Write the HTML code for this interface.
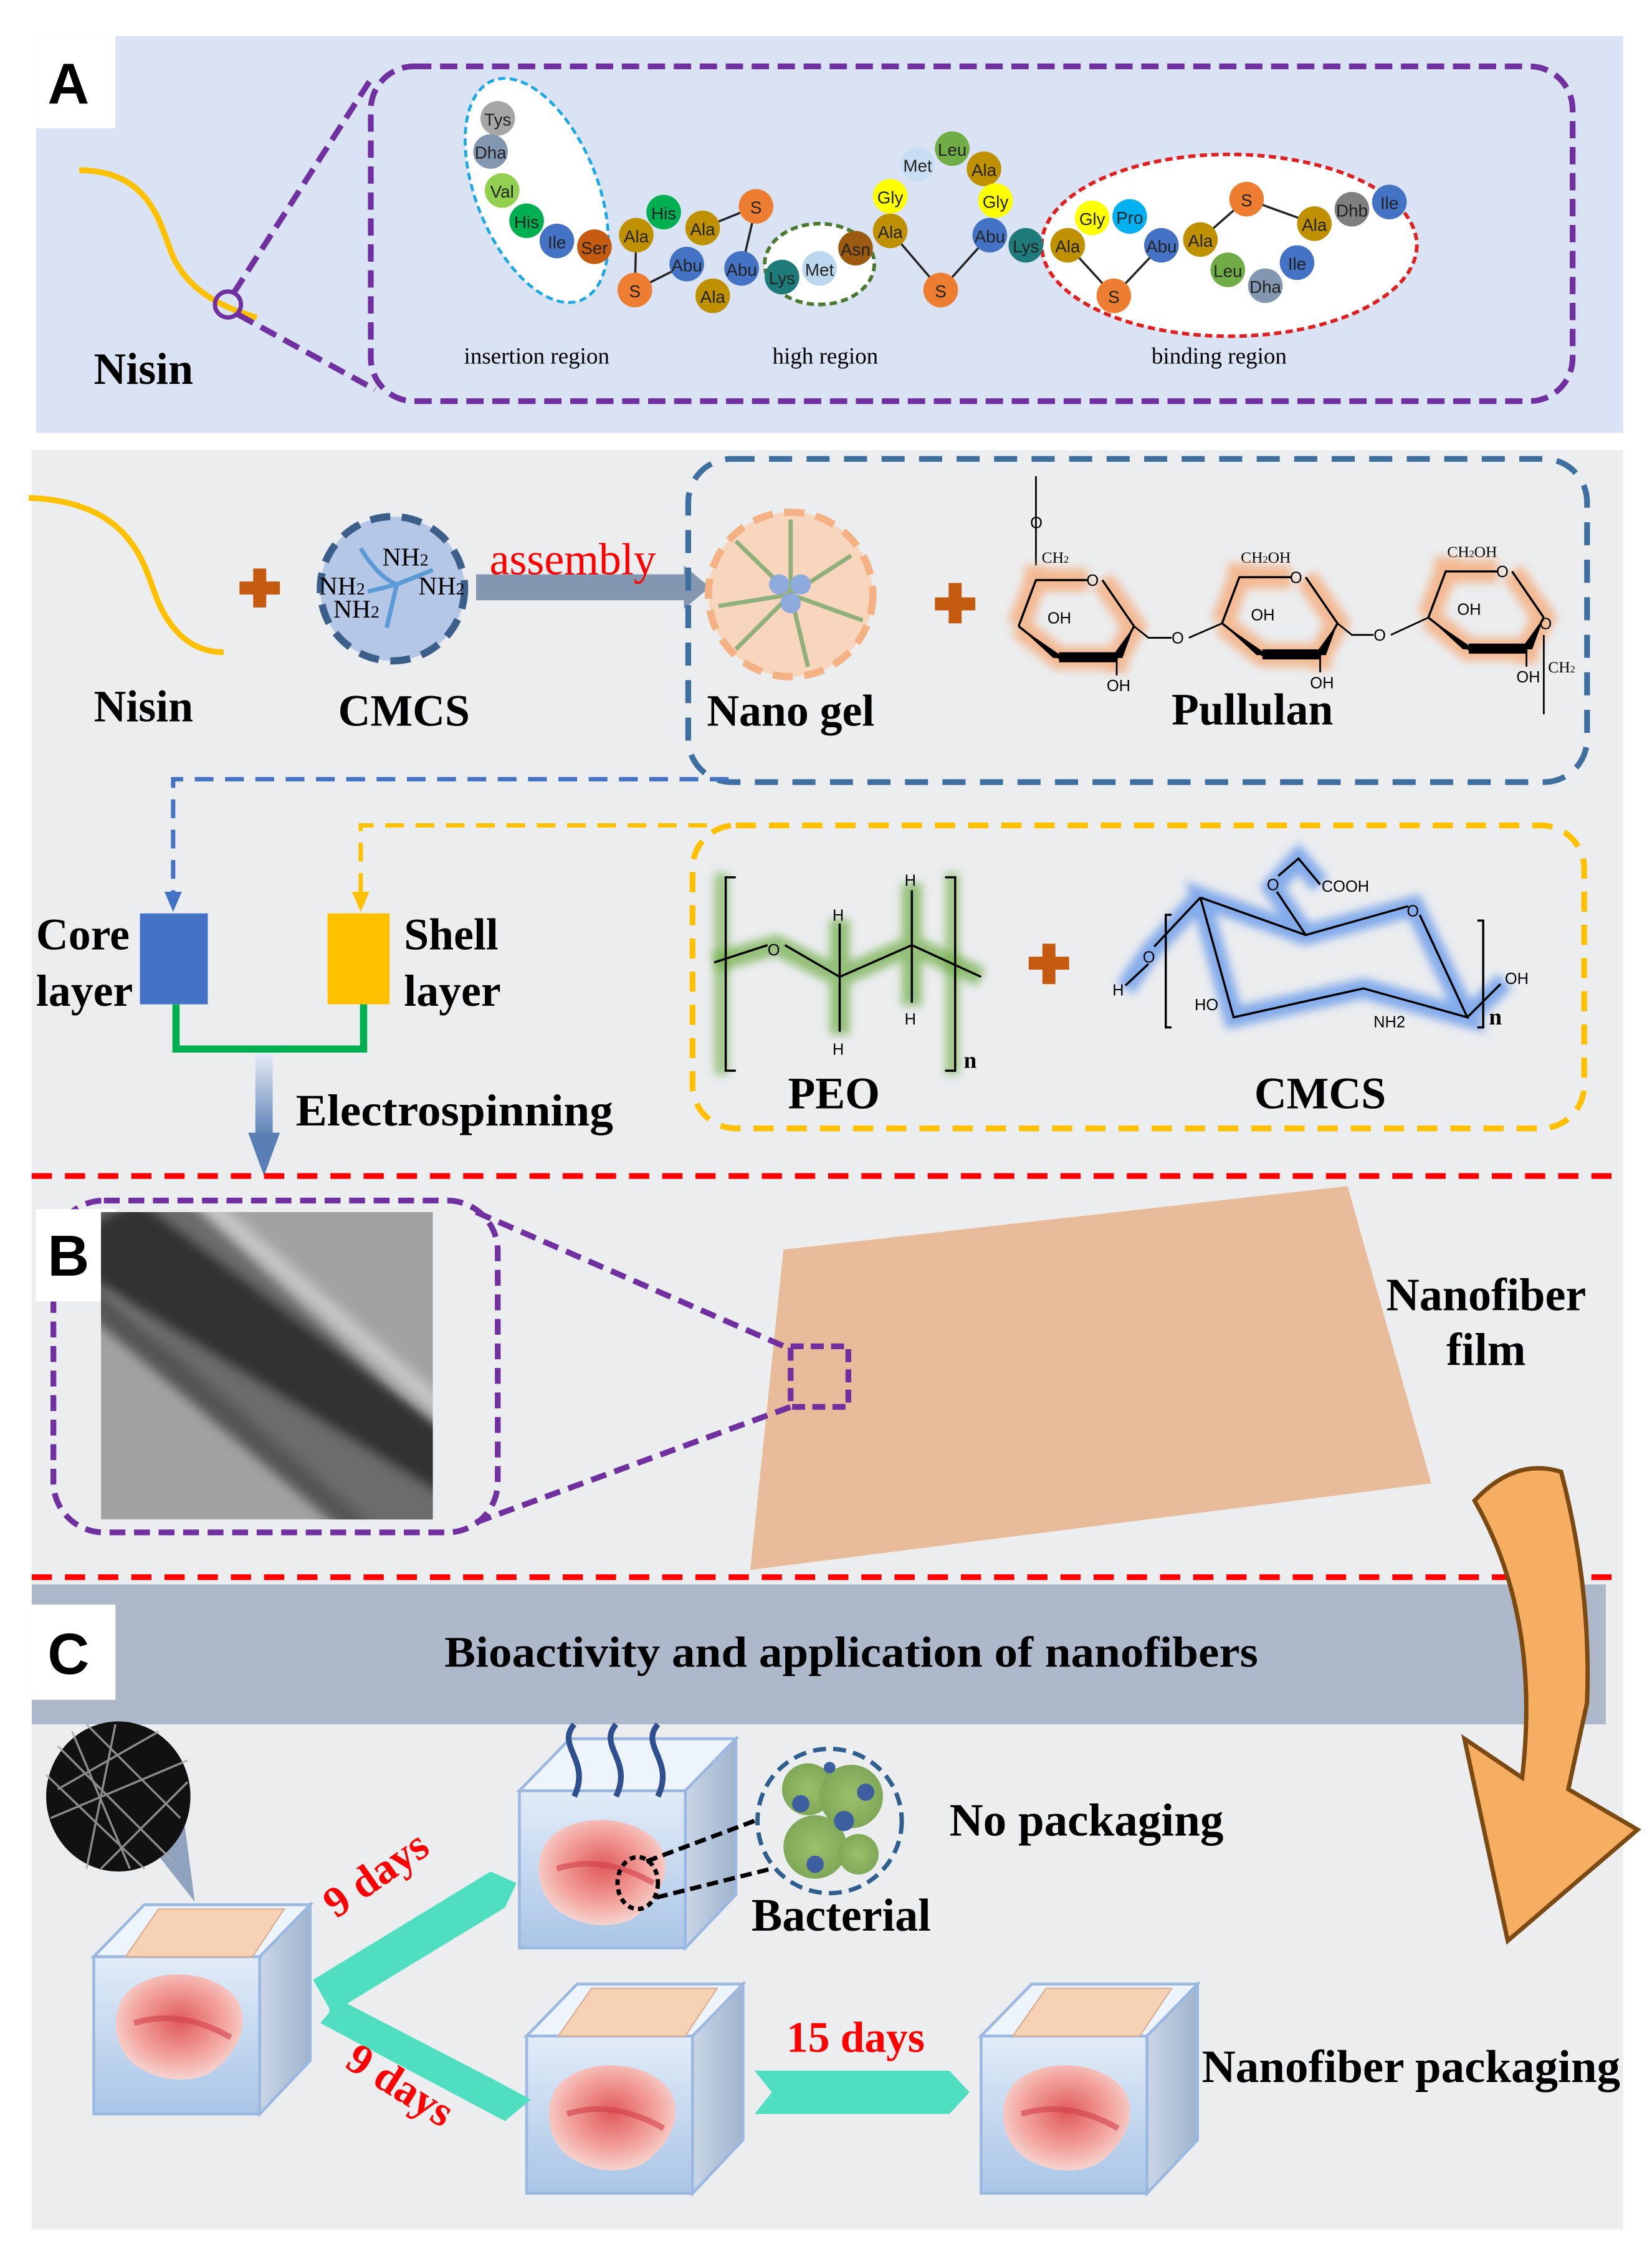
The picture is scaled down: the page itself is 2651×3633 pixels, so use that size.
<!DOCTYPE html>
<html><head><meta charset="utf-8"><style>
html,body{margin:0;padding:0;background:#fff;}
svg{display:block;}
text{font-family:"Liberation Serif",serif;}
.b{font-weight:bold;}
.res{font-family:"Liberation Sans",sans-serif;font-size:12px;fill:#222;text-anchor:middle;}
.chem{font-family:"Liberation Sans",sans-serif;font-size:11px;fill:#000;}
</style></head><body>
<svg width="2651" height="3633" viewBox="0 0 1145 1569" preserveAspectRatio="none" xmlns="http://www.w3.org/2000/svg">
<defs>
<filter id="gl" x="-20%" y="-20%" width="140%" height="140%"><feGaussianBlur stdDeviation="3"/></filter>
<filter id="bl" x="-10%" y="-10%" width="120%" height="120%"><feGaussianBlur stdDeviation="4"/></filter>
<linearGradient id="dn" x1="0" y1="0" x2="0" y2="1"><stop offset="0" stop-color="#e6ecf6"/><stop offset="1" stop-color="#5a7fb4"/></linearGradient>
<linearGradient id="box" x1="0" y1="0" x2="0" y2="1"><stop offset="0" stop-color="#e2ecf8"/><stop offset="1" stop-color="#a9c5e6"/></linearGradient>
<linearGradient id="side" x1="0" y1="0" x2="1" y2="0"><stop offset="0" stop-color="#c9d6e6"/><stop offset="1" stop-color="#9fb4cd"/></linearGradient>
<radialGradient id="fish" cx="0.5" cy="0.45" r="0.6"><stop offset="0" stop-color="#e05a5a"/><stop offset="0.6" stop-color="#f4a6a0"/><stop offset="1" stop-color="#f6e0dc"/></radialGradient>
<radialGradient id="bac" cx="0.5" cy="0.5" r="0.5"><stop offset="0" stop-color="#9cc06a"/><stop offset="1" stop-color="#7fa858"/></radialGradient>
<g id="cube">
<polygon points="0,36 115,36 115,145 0,145" fill="url(#box)" stroke="#9db8e0" stroke-width="2"/>
<polygon points="115,36 150,0 150,108 115,145" fill="url(#side)" stroke="#9db8e0" stroke-width="2"/>
<polygon points="0,36 35,0 150,0 115,36" fill="#eef4fc" stroke="#9db8e0" stroke-width="2"/>
</g>
<g id="film"><polygon points="22,36 45,3 132,3 110,36" fill="#f6d1b3" stroke="#d8b095" stroke-width="1"/></g>
<g id="fishg"><path d="M12,0 C30,-20 75,-18 90,5 C100,25 85,45 70,55 C55,62 35,60 20,50 C5,40 0,15 12,0 Z" fill="url(#fish)"/><path d="M18,20 Q50,10 85,30" stroke="#d0404a" stroke-width="4" fill="none" opacity="0.6"/></g>
<g id="ring">
<path d="M0,32 L12,0 L48,0 M58,0 L80,32 L68,54 L28,54 L0,32 M68,54 L68,64 M12,0 L12,-10" stroke="#f4b183" stroke-width="16" fill="none" filter="url(#gl)" opacity="0.85"/>
<path d="M0,32 L12,0 L48,0 M58,0 L80,32" stroke="#000" stroke-width="1.5" fill="none"/>
<path d="M80,32 L68,54 L28,54 L0,32" stroke="#000" stroke-width="1.5" fill="none"/>
<polygon points="80,32 64,54 72,54" fill="#000"/><polygon points="28,50 68,50 68,57 28,57" fill="#000"/><polygon points="0,32 24,54 32,54" fill="#000"/>
<text x="47" y="4" class="chem">O</text>
<line x1="68" y1="54" x2="68" y2="66" stroke="#000" stroke-width="1.2"/>
<text x="61" y="77" class="chem">OH</text>
<text x="20" y="30" class="chem">OH</text>
</g>
</defs>

<!-- Panel A -->
<rect x="25" y="25" width="1100" height="275" fill="#d9e3f3"/>
<rect x="25" y="25" width="55" height="64" fill="#fff"/>
<text x="33" y="72" font-weight="bold" font-size="40" style="font-family:'Liberation Sans',sans-serif">A</text>
<path d="M55,118 C110,118 112,165 122,182 C132,200 150,212 178,220" stroke="#ffc000" stroke-width="4" fill="none"/>
<circle cx="158" cy="211" r="9" fill="none" stroke="#7030a0" stroke-width="3"/>
<path d="M162,203 L257,55 M165,218 L260,270" stroke="#7030a0" stroke-width="4" stroke-dasharray="12 6" fill="none"/>
<rect x="257" y="46" width="833" height="232" rx="30" fill="none" stroke="#7030a0" stroke-width="4" stroke-dasharray="12 6"/>
<text x="65" y="266" class="b" font-size="31">Nisin</text>
<ellipse cx="372" cy="132" rx="42" ry="82" transform="rotate(-22 372 132)" fill="#fff" stroke="#1aa7e6" stroke-width="2" stroke-dasharray="5 3"/>
<ellipse cx="568" cy="183" rx="38" ry="28" fill="#fff" stroke="#4a7a30" stroke-width="2.5" stroke-dasharray="5 3"/>
<ellipse cx="852" cy="170" rx="130" ry="63" fill="#fff" stroke="#e02020" stroke-width="2.5" stroke-dasharray="5 3"/>
<g stroke="#222" stroke-width="1.5">
<line x1="441" y1="163" x2="440" y2="201"/><line x1="440" y1="201" x2="476" y2="183"/><line x1="487" y1="158" x2="524" y2="143"/><line x1="524" y1="143" x2="514" y2="186"/>
<line x1="617" y1="160" x2="652" y2="201"/><line x1="652" y1="201" x2="686" y2="163"/><line x1="740" y1="170" x2="772" y2="205"/><line x1="772" y1="205" x2="805" y2="170"/><line x1="832" y1="166" x2="864" y2="138"/><line x1="864" y1="138" x2="911" y2="155"/>
</g>
<g>
<circle cx="345" cy="82" r="12" fill="#a6a6a6"/><text x="345" y="87" class="res">Tys</text>
<circle cx="340" cy="105" r="12" fill="#8497b0"/><text x="340" y="110" class="res">Dha</text>
<circle cx="348" cy="132" r="12" fill="#92d050"/><text x="348" y="137" class="res">Val</text>
<circle cx="365" cy="153" r="12" fill="#00b050"/><text x="365" y="158" class="res">His</text>
<circle cx="386" cy="167" r="12" fill="#4472c4"/><text x="386" y="172" class="res">Ile</text>
<circle cx="412" cy="171" r="12" fill="#c55a11"/><text x="412" y="176" class="res">Ser</text>
<circle cx="441" cy="163" r="12" fill="#bf9000"/><text x="441" y="168" class="res">Ala</text>
<circle cx="460" cy="147" r="12" fill="#00b050"/><text x="460" y="152" class="res">His</text>
<circle cx="487" cy="158" r="12" fill="#bf9000"/><text x="487" y="163" class="res">Ala</text>
<circle cx="524" cy="143" r="12" fill="#ed7d31"/><text x="524" y="148" class="res">S</text>
<circle cx="476" cy="183" r="12" fill="#4472c4"/><text x="476" y="188" class="res">Abu</text>
<circle cx="514" cy="186" r="12" fill="#4472c4"/><text x="514" y="191" class="res">Abu</text>
<circle cx="494" cy="205" r="12" fill="#bf9000"/><text x="494" y="210" class="res">Ala</text>
<circle cx="440" cy="201" r="12" fill="#ed7d31"/><text x="440" y="206" class="res">S</text>
<circle cx="542" cy="192" r="12" fill="#1f7a7a"/><text x="542" y="197" class="res">Lys</text>
<circle cx="568" cy="186" r="12" fill="#bdd7ee"/><text x="568" y="191" class="res">Met</text>
<circle cx="593" cy="172" r="12" fill="#9c5a10"/><text x="593" y="177" class="res">Asn</text>
<circle cx="617" cy="160" r="12" fill="#bf9000"/><text x="617" y="165" class="res">Ala</text>
<circle cx="617" cy="136" r="12" fill="#ffff00"/><text x="617" y="141" class="res">Gly</text>
<circle cx="636" cy="114" r="12" fill="#c9def2"/><text x="636" y="119" class="res">Met</text>
<circle cx="660" cy="103" r="12" fill="#70ad47"/><text x="660" y="108" class="res">Leu</text>
<circle cx="682" cy="117" r="12" fill="#bf9000"/><text x="682" y="122" class="res">Ala</text>
<circle cx="690" cy="139" r="12" fill="#ffff00"/><text x="690" y="144" class="res">Gly</text>
<circle cx="686" cy="163" r="12" fill="#4472c4"/><text x="686" y="168" class="res">Abu</text>
<circle cx="711" cy="170" r="12" fill="#1f7a7a"/><text x="711" y="175" class="res">Lys</text>
<circle cx="652" cy="201" r="12" fill="#ed7d31"/><text x="652" y="206" class="res">S</text>
<circle cx="740" cy="170" r="12" fill="#bf9000"/><text x="740" y="175" class="res">Ala</text>
<circle cx="757" cy="151" r="12" fill="#ffff00"/><text x="757" y="156" class="res">Gly</text>
<circle cx="783" cy="150" r="12" fill="#00b0f0"/><text x="783" y="155" class="res">Pro</text>
<circle cx="805" cy="170" r="12" fill="#4472c4"/><text x="805" y="175" class="res">Abu</text>
<circle cx="832" cy="166" r="12" fill="#bf9000"/><text x="832" y="171" class="res">Ala</text>
<circle cx="772" cy="205" r="12" fill="#ed7d31"/><text x="772" y="210" class="res">S</text>
<circle cx="864" cy="138" r="12" fill="#ed7d31"/><text x="864" y="143" class="res">S</text>
<circle cx="911" cy="155" r="12" fill="#bf9000"/><text x="911" y="160" class="res">Ala</text>
<circle cx="937" cy="145" r="12" fill="#7f7f7f"/><text x="937" y="150" class="res">Dhb</text>
<circle cx="963" cy="140" r="12" fill="#4472c4"/><text x="963" y="145" class="res">Ile</text>
<circle cx="851" cy="187" r="12" fill="#70ad47"/><text x="851" y="192" class="res">Leu</text>
<circle cx="877" cy="198" r="12" fill="#8497b0"/><text x="877" y="203" class="res">Dha</text>
<circle cx="899" cy="182" r="12" fill="#4472c4"/><text x="899" y="187" class="res">Ile</text>
</g>
<text x="372" y="252" font-size="16" text-anchor="middle">insertion region</text>
<text x="572" y="252" font-size="16" text-anchor="middle">high region</text>
<text x="845" y="252" font-size="16" text-anchor="middle">binding region</text>

<!-- Lower panel -->
<rect x="22" y="312" width="1103" height="1233" fill="#ebedef"/>
<path d="M20,345 C95,348 100,395 110,418 C120,440 135,452 155,452" stroke="#ffc000" stroke-width="4" fill="none"/>
<text x="65" y="500" class="b" font-size="31">Nisin</text>
<g fill="#c55a11"><rect x="166" y="403" width="28" height="9"/><rect x="175.5" y="394" width="9" height="27"/></g>
<circle cx="272" cy="408" r="50" fill="#b4c7e7" stroke="#3c5f8a" stroke-width="5" stroke-dasharray="14 8"/>
<path d="M250,380 Q262,400 275,405 L300,395 M275,405 L268,435 M255,410 L275,405" stroke="#5b9bd5" stroke-width="3" fill="none"/>
<text x="265" y="392" font-size="18">NH<tspan font-size="12">2</tspan></text>
<text x="221" y="412" font-size="18">NH<tspan font-size="12">2</tspan></text>
<text x="290" y="412" font-size="18">NH<tspan font-size="12">2</tspan></text>
<text x="231" y="428" font-size="18">NH<tspan font-size="12">2</tspan></text>
<text x="280" y="503" class="b" font-size="31" text-anchor="middle">CMCS</text>
<rect x="330" y="398" width="145" height="18" fill="#8497b0"/>
<polygon points="474,392 492,407 474,422" fill="#8497b0"/>
<text x="397" y="398" font-size="31" fill="#ff0000" text-anchor="middle">assembly</text>
<rect x="477" y="318" width="623" height="224" rx="30" fill="none" stroke="#3f6f9e" stroke-width="4" stroke-dasharray="16 10"/>
<circle cx="548" cy="412" r="57" fill="#f8d5bd" stroke="#f4b183" stroke-width="5" stroke-dasharray="14 8"/>
<g stroke="#8fb07a" stroke-width="3" fill="none">
<path d="M548,412 L548,360 M548,412 L590,385 M548,412 L598,430 M548,412 L560,462 M548,412 L510,450 M548,412 L498,420 M548,412 L510,375"/>
</g>
<g fill="#8faadc"><circle cx="540" cy="405" r="7"/><circle cx="555" cy="405" r="7"/><circle cx="548" cy="418" r="7"/></g>
<text x="548" y="503" class="b" font-size="31" text-anchor="middle">Nano gel</text>
<g fill="#c55a11"><rect x="648" y="414" width="28" height="9"/><rect x="657.5" y="404" width="9" height="28"/></g>
<!-- pullulan -->
<g>
<line x1="718" y1="330" x2="718" y2="392" stroke="#f4b183" stroke-width="12" opacity="0.8" filter="url(#gl)"/>
<line x1="718" y1="330" x2="718" y2="392" stroke="#000" stroke-width="1.2"/>
<text x="714" y="366" class="chem">O</text><text x="722" y="390" font-size="11" font-family="Liberation Sans">CH<tspan font-size="7">2</tspan></text>
<use href="#ring" x="706" y="402"/>
<text x="860" y="390" font-size="11" font-family="Liberation Sans">CH<tspan font-size="7">2</tspan>OH</text>
<use href="#ring" x="847" y="400"/>
<text x="1003" y="386" font-size="11" font-family="Liberation Sans">CH<tspan font-size="7">2</tspan>OH</text>
<use href="#ring" x="990" y="396"/>
<path d="M786,434 L796,442 L812,442 M824,442 L847,432 M927,432 L937,440 L952,440 M964,440 L990,428" stroke="#000" stroke-width="1.2" fill="none"/>
<text x="812" y="446" class="chem">O</text><text x="952" y="444" class="chem">O</text>
<line x1="1070" y1="440" x2="1070" y2="495" stroke="#000" stroke-width="1.2"/>
<text x="1067" y="436" class="chem">O</text><text x="1073" y="466" font-size="11" font-family="Liberation Sans">CH<tspan font-size="7">2</tspan></text>
</g>
<text x="868" y="502" class="b" font-size="31" text-anchor="middle">Pullulan</text>

<!-- connectors -->
<path d="M505,540 L120,540 L120,620" stroke="#4472c4" stroke-width="3" stroke-dasharray="13 8" fill="none"/>
<polygon points="114,618 126,618 120,632" fill="#4472c4"/>
<path d="M490,572 L250,572 L250,620" stroke="#ffc000" stroke-width="3" stroke-dasharray="13 8" fill="none"/>
<polygon points="244,618 256,618 250,632" fill="#ffc000"/>
<rect x="480" y="572" width="618" height="210" rx="30" fill="none" stroke="#ffc000" stroke-width="4" stroke-dasharray="14 9"/>
<rect x="97" y="633" width="47" height="63" fill="#4472c4"/>
<rect x="227" y="633" width="43" height="63" fill="#ffc000"/>
<path d="M122,696 L122,727 L252,727 L252,696" stroke="#00b050" stroke-width="5" fill="none"/>
<rect x="177" y="730" width="12" height="58" fill="url(#dn)"/>
<polygon points="172,785 194,785 183,815" fill="#5a7fb4"/>
<text x="25" y="658" class="b" font-size="31">Core</text>
<text x="25" y="697" class="b" font-size="31">layer</text>
<text x="280" y="658" class="b" font-size="31">Shell</text>
<text x="280" y="697" class="b" font-size="31">layer</text>
<text x="205" y="780" class="b" font-size="31" textLength="220" lengthAdjust="spacingAndGlyphs">Electrospinning</text>
<!-- PEO -->
<g>
<path d="M495,667 L538,655 L582,677 L632,655 L680,677 M582,677 L582,637 M582,677 L582,717 M632,655 L632,612 M632,655 L632,697" stroke="#70ad47" stroke-width="14" fill="none" opacity="0.7" filter="url(#gl)"/>
<path d="M505,610 L500,610 L500,740 L505,740 M655,610 L660,610 L660,740 L655,740" stroke="#70ad47" stroke-width="10" fill="none" opacity="0.6" filter="url(#gl)"/>
<path d="M495,667 L532,655 M544,655 L582,677 L632,655 L680,677 M582,677 L582,640 M582,677 L582,715 M632,655 L632,617 M632,655 L632,695" stroke="#000" stroke-width="1.5" fill="none"/>
<path d="M510,608 L503,608 L503,742 L510,742 M655,608 L662,608 L662,742 L655,742" stroke="#000" stroke-width="1.5" fill="none"/>
<text x="532" y="662" class="chem" font-size="13">O</text>
<text x="577" y="638" class="chem" font-size="13">H</text><text x="577" y="731" class="chem" font-size="13">H</text>
<text x="627" y="614" class="chem" font-size="13">H</text><text x="627" y="710" class="chem" font-size="13">H</text>
<text x="668" y="740" class="b" font-size="16">n</text>
</g>
<text x="578" y="768" class="b" font-size="31" text-anchor="middle">PEO</text>
<g fill="#c55a11"><rect x="713" y="663" width="28" height="9"/><rect x="722.5" y="654" width="9" height="28"/></g>
<!-- CMCS structure -->
<g>
<path d="M832,622 L905,648 L980,628 L1017,705 L945,685 L855,705 Z M905,648 L882,615 L900,595 L915,613 M832,622 L797,660 L780,685 M1017,705 L1043,680" stroke="#6b9bea" stroke-width="14" fill="none" opacity="0.8" filter="url(#gl)"/>
<path d="M832,622 L905,648 L976,628 M984,634 L1017,705 L945,685 L855,705 L832,622 M905,648 L885,618 M886,607 L900,595 L915,613 M832,622 L800,656 M796,668 L780,683 M1017,705 L1040,682" stroke="#000" stroke-width="1.5" fill="none"/>
<path d="M812,634 L808,634 L808,712 L812,712 M1024,638 L1028,638 L1028,712 L1024,712" stroke="#000" stroke-width="1.5" fill="none"/>
<text x="975" y="635" class="chem" font-size="13">O</text><text x="878" y="617" class="chem" font-size="13">O</text>
<text x="916" y="618" class="chem" font-size="13">COOH</text><text x="792" y="667" class="chem" font-size="13">O</text>
<text x="771" y="690" class="chem" font-size="13">H</text><text x="828" y="700" class="chem" font-size="13">HO</text>
<text x="952" y="712" class="chem" font-size="13">NH2</text><text x="1043" y="682" class="chem" font-size="13">OH</text>
<text x="1032" y="710" class="b" font-size="16">n</text>
</g>
<text x="915" y="768" class="b" font-size="31" text-anchor="middle">CMCS</text>

<line x1="22" y1="815" x2="1120" y2="815" stroke="#ff0000" stroke-width="4" stroke-dasharray="14 9"/>

<!-- Panel B -->
<rect x="37" y="832" width="308" height="230" rx="35" fill="none" stroke="#7030a0" stroke-width="4" stroke-dasharray="11 6"/>
<rect x="25" y="838" width="55" height="64" fill="#fff"/>
<text x="33" y="884" font-weight="bold" font-size="40" style="font-family:'Liberation Sans',sans-serif">B</text>
<svg x="70" y="840" width="230" height="213" viewBox="0 0 230 213" overflow="hidden">
<rect width="230" height="213" fill="#a2a2a2"/>
<g filter="url(#bl)">
<polygon points="-10,-10 60,-10 250,170 250,240 200,240 -10,40" fill="#6c6c6c"/>
<polygon points="-10,10 25,-10 250,160 250,205 -10,45" fill="#333"/>
<polygon points="-10,45 -10,70 190,240 215,240" fill="#555"/>
<polygon points="60,-10 78,-10 250,140 250,156" fill="#cfcfcf" opacity="0.8"/>
</g>
</svg>
<polygon points="543,866 934,822 992,1028 520,1088" fill="#e8bc9a"/>
<path d="M330,840 L548,935 M330,1055 L548,975" stroke="#7030a0" stroke-width="4" stroke-dasharray="11 6" fill="none"/>
<rect x="548" y="933" width="40" height="42" fill="none" stroke="#7030a0" stroke-width="4" stroke-dasharray="9 5"/>
<text x="1030" y="908" class="b" font-size="32" text-anchor="middle">Nanofiber</text>
<text x="1030" y="946" class="b" font-size="32" text-anchor="middle">film</text>

<line x1="22" y1="1093" x2="1120" y2="1093" stroke="#ff0000" stroke-width="4" stroke-dasharray="14 9"/>

<!-- Panel C -->
<rect x="22" y="1098" width="1091" height="97" fill="#adb9ca"/>
<rect x="22" y="1112" width="58" height="66" fill="#fff"/>
<text x="33" y="1160" font-weight="bold" font-size="40" style="font-family:'Liberation Sans',sans-serif">C</text>
<text x="308" y="1155" class="b" font-size="30" textLength="564" lengthAdjust="spacingAndGlyphs">Bioactivity and application of nanofibers</text>

<!-- big orange arrow -->
<path d="M1022,1040 Q1050,1010 1082,1020 Q1103,1100 1100,1180 L1087,1240 L1135,1268 L1045,1345 L1015,1205 L1055,1232 Q1068,1120 1022,1040 Z" fill="#f5ae62" stroke="#7b4a12" stroke-width="3"/>

<!-- SEM -->
<polygon points="105,1280 135,1318 128,1265" fill="#8fa3bf"/>
<ellipse cx="82" cy="1245" rx="50" ry="52" fill="#111"/>
<g stroke="#aaa" stroke-width="1.5" opacity="0.8">
<line x1="40" y1="1210" x2="120" y2="1290"/><line x1="50" y1="1200" x2="90" y2="1295"/><line x1="35" y1="1260" x2="130" y2="1220"/><line x1="60" y1="1195" x2="125" y2="1260"/><line x1="40" y1="1240" x2="110" y2="1200"/><line x1="70" y1="1295" x2="130" y2="1235"/><line x1="32" y1="1230" x2="100" y2="1295"/><line x1="80" y1="1195" x2="60" y2="1295"/>
</g>

<!-- cubes -->
<g transform="translate(65,1320)"><use href="#cube"/><use href="#film"/><use href="#fishg" x="10" y="62"/></g>
<g transform="translate(360,1205)"><use href="#cube"/><use href="#fishg" x="8" y="70"/></g>
<g transform="translate(365,1375)"><use href="#cube"/><use href="#film"/><use href="#fishg" x="10" y="70"/></g>
<g transform="translate(680,1375)"><use href="#cube"/><use href="#film"/><use href="#fishg" x="10" y="70"/></g>
<g stroke="#2f4f8f" stroke-width="4" fill="none">
<path d="M398,1195 C385,1210 410,1220 398,1245"/><path d="M427,1195 C414,1210 439,1220 427,1245"/><path d="M456,1195 C443,1210 468,1220 456,1245"/>
</g>
<ellipse cx="442" cy="1305" rx="14" ry="18" fill="none" stroke="#000" stroke-width="3" stroke-dasharray="4 3"/>
<path d="M448,1290 L528,1260 M455,1315 L535,1295" stroke="#000" stroke-width="3" stroke-dasharray="8 4"/>
<circle cx="575" cy="1262" r="50" fill="#ebedef" stroke="#2f5f8f" stroke-width="3" stroke-dasharray="9 5"/>
<g fill="url(#bac)"><circle cx="560" cy="1240" r="18"/><circle cx="590" cy="1245" r="22"/><circle cx="565" cy="1280" r="22"/><circle cx="595" cy="1285" r="14"/></g>
<g fill="#3e5f9f"><circle cx="555" cy="1250" r="6"/><circle cx="585" cy="1262" r="7"/><circle cx="565" cy="1292" r="6"/><circle cx="600" cy="1242" r="6"/><circle cx="575" cy="1225" r="4"/></g>
<text x="583" y="1338" class="b" font-size="32" text-anchor="middle">Bacterial</text>
<text x="658" y="1272" class="b" font-size="32" textLength="190" lengthAdjust="spacingAndGlyphs">No packaging</text>
<text x="833" y="1443" class="b" font-size="32" textLength="290" lengthAdjust="spacingAndGlyphs">Nanofiber packaging</text>
<!-- teal arrows -->
<polygon points="217,1372 340,1297 358,1305 350,1322 230,1395" fill="#4fdfc0"/>
<polygon points="230,1383 340,1440 368,1455 350,1470 222,1402 228,1395" fill="#4fdfc0"/>
<polygon points="523,1435 658,1435 672,1450 658,1465 523,1465 535,1450" fill="#4fdfc0"/>
<text transform="translate(233,1330) rotate(-35)" class="b" font-size="30" fill="#ff0000">9 days</text>
<text transform="translate(238,1432) rotate(32)" class="b" font-size="30" fill="#ff0000">9 days</text>
<text x="593" y="1422" class="b" font-size="30" fill="#ff0000" text-anchor="middle">15 days</text>
</svg>
</body></html>
